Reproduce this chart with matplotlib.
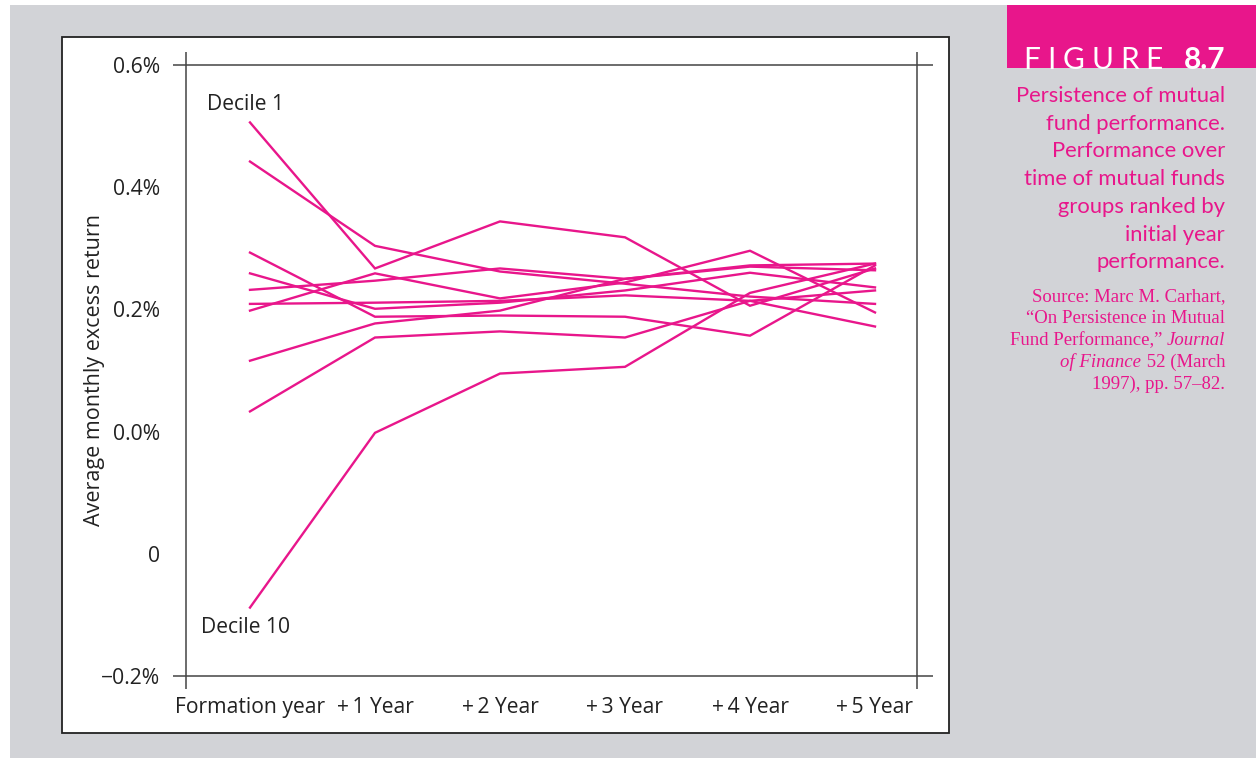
import matplotlib
matplotlib.use("Agg")
import matplotlib.pyplot as plt
from matplotlib.patches import Rectangle
from matplotlib.lines import Line2D

# ---------------- data ----------------
periods = ["Formation year", "+1 Year", "+2 Year", "+3 Year", "+4 Year", "+5 Year"]

decile_1 = [0.506, 0.267, 0.344, 0.318, 0.206, 0.267]
decile_2 = [0.442, 0.304, 0.262, 0.242, 0.221, 0.209]
decile_3 = [0.293, 0.188, 0.190, 0.188, 0.157, 0.272]
decile_4 = [0.259, 0.201, 0.211, 0.231, 0.260, 0.236]
decile_5 = [0.232, 0.247, 0.267, 0.250, 0.272, 0.275]
decile_6 = [0.209, 0.211, 0.214, 0.223, 0.214, 0.231]
decile_7 = [0.198, 0.259, 0.218, 0.244, 0.296, 0.195]
decile_8 = [0.116, 0.177, 0.198, 0.250, 0.270, 0.264]
decile_9 = [0.033, 0.154, 0.164, 0.154, 0.214, 0.172]
decile_10 = [-0.288, -0.002, 0.095, 0.106, 0.227, 0.275]
deciles = [decile_1, decile_2, decile_3, decile_4, decile_5,
           decile_6, decile_7, decile_8, decile_9, decile_10]

ytick_values = [-0.4, -0.2, 0.0, 0.2, 0.4, 0.6]
ytick_labels = ["\u22120.2%", "0", "0.0%", "0.2%", "0.4%", "0.6%"]

# ---------------- layout ----------------
W, H = 1256, 761
fig = plt.figure(figsize=(W / 100, H / 100), dpi=100)
fig.patch.set_facecolor("white")
renderer = fig.canvas.get_renderer()

def fx(x):
    return x / W

def fy(y):
    return 1 - y / H

GRAY = "#d2d3d7"
PINK = "#e8168b"
LINE = "#e8168b"
AX = "#444444"
TXT = "#222222"

# gray background
fig.patches.append(Rectangle((fx(10), fy(758)), fx(1256) - fx(10), fy(5) - fy(758),
                             transform=fig.transFigure, facecolor=GRAY, edgecolor="none", zorder=0))
# white panel
fig.patches.append(Rectangle((fx(62), fy(733)), fx(949) - fx(62), fy(37) - fy(733),
                             transform=fig.transFigure, facecolor="white", edgecolor="#222222",
                             linewidth=1.3, zorder=1))
# pink title box
fig.patches.append(Rectangle((fx(1007), fy(68)), fx(1256) - fx(1007), fy(5) - fy(68),
                             transform=fig.transFigure, facecolor=PINK, edgecolor="none", zorder=1))

left, right, top, bottom = 186, 917, 65, 676
ax = fig.add_axes([fx(left), fy(bottom), fx(right) - fx(left), fy(top) - fy(bottom)])
ax.set_facecolor("none")
ax.set_zorder(2)

x = list(range(len(periods)))
for d in deciles:
    ax.plot(x, d, color=LINE, lw=1.7, solid_joinstyle="miter", zorder=3)

ax.set_xlim(-0.512, 5.336)
ax.set_ylim(-0.4, 0.6)

for s in ax.spines.values():
    s.set_visible(False)

ext_x = 13 / (right - left)
ext_y = 13 / (bottom - top)
kw = dict(transform=ax.transAxes, color=AX, lw=1.1, clip_on=False, solid_capstyle="butt")
ax.add_line(Line2D([-ext_x, 1 + ext_x * 1.2], [1, 1], **kw))
ax.add_line(Line2D([-ext_x, 1 + ext_x * 1.2], [0, 0], **kw))
ax.add_line(Line2D([0, 0], [-ext_y, 1 + ext_y], **kw))
ax.add_line(Line2D([1, 1], [-ext_y, 1 + ext_y], **kw))

FONT = ["Open Sans", "DejaVu Sans"]
FS = 15.2
ax.set_yticks(ytick_values)
ax.set_yticklabels(ytick_labels, fontsize=FS, color=TXT, family=FONT)
ax.set_xticks(x)
ax.set_xticklabels([p.replace("+", "+\u2009") if p.startswith("+") else p for p in periods],
                   fontsize=FS, color=TXT, family=FONT)
ax.tick_params(axis="both", length=0)
ax.tick_params(axis="y", pad=18.5)
ax.tick_params(axis="x", pad=15)

ax.set_ylabel("Average monthly excess return", fontsize=15.5, color=TXT, family=FONT)
ax.yaxis.set_label_coords((105 - left) / (right - left), 0.5)

ax.text(-0.344, 0.535, "Decile 1", fontsize=FS, color=TXT, family=FONT,
        ha="left", va="center")
ax.text(-0.392, -0.321, "Decile 10", fontsize=FS, color=TXT, family=FONT,
        ha="left", va="center")

# --------------- caption ---------------
CAP = ["Lato", "DejaVu Sans"]

# "FIGURE" with letter spacing, then bold "8.7"
base_y = fy(69)
t87 = fig.text(fx(1225), base_y, "8.7", color="white", fontsize=21.5, family=CAP,
               fontweight="bold", ha="right", va="baseline", zorder=5)
letters = list("FIGURE")
cur = 1163.0
tracking = 7.0
for ch in reversed(letters):
    t = fig.text(fx(cur), base_y, ch, color="white", fontsize=21.5, family=CAP,
                 fontweight="normal", ha="right", va="baseline", zorder=5)
    w = t.get_window_extent(renderer).width
    cur -= w + tracking

caption = ["Persistence of mutual", "fund performance.", "Performance over",
           "time of mutual funds", "groups ranked by", "initial year", "performance."]
for i, line in enumerate(caption):
    fig.text(fx(1225), fy(96 + i * 27.7), line, color=PINK, fontsize=15.8, family=CAP,
             ha="right", va="center")

SER = ["Liberation Serif", "DejaVu Serif"]
SFS = 13.5

def right_runs(y, runs, xr=1225):
    cur = xr
    for txt, style in reversed(runs):
        t = fig.text(fx(cur), fy(y), txt, color=PINK, fontsize=SFS, family=SER,
                     style=style, ha="right", va="center")
        cur -= t.get_window_extent(renderer).width

src_y = [297, 318.8, 340.6, 362.4, 384.2]
right_runs(src_y[0], [("Source: Marc M. Carhart,", "normal")])
right_runs(src_y[1], [("\u201cOn Persistence in Mutual", "normal")])
right_runs(src_y[2], [("Fund Performance,\u201d ", "normal"), ("Journal", "italic")])
right_runs(src_y[3], [("of Finance", "italic"), (" 52 (March", "normal")])
right_runs(src_y[4], [("1997), pp. 57\u201382.", "normal")])

fig.savefig("out.png", dpi=100, facecolor=fig.get_facecolor())
